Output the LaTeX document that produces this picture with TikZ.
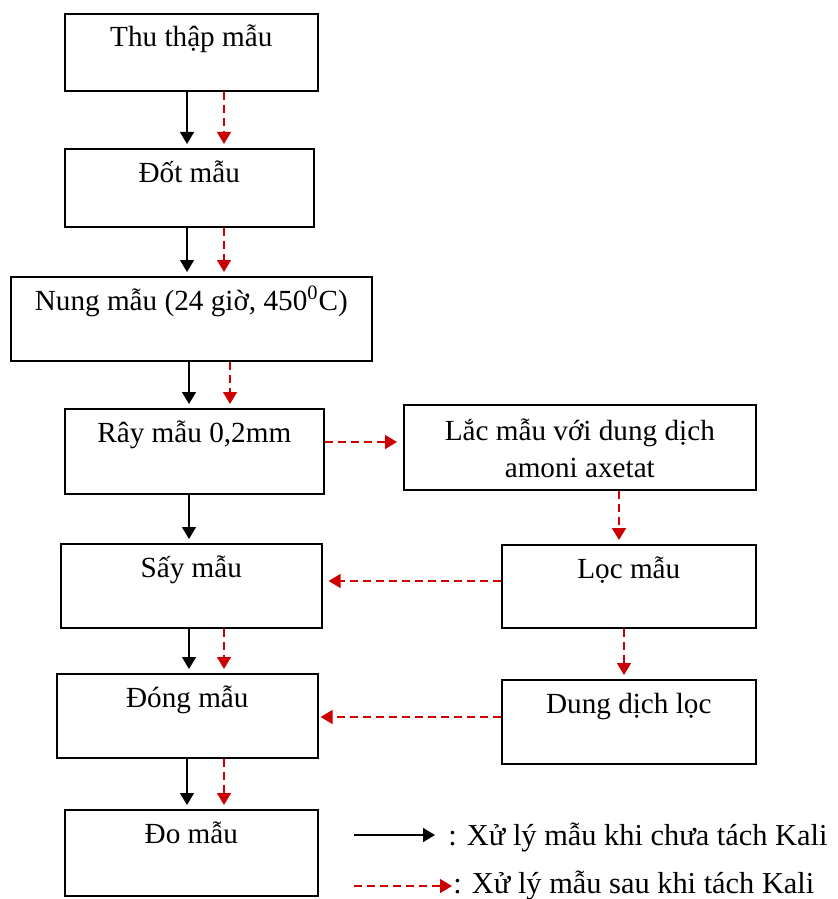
\documentclass[tikz,border=0pt]{standalone}
\usepackage{fontspec}
\setmainfont{Liberation Serif}
\usetikzlibrary{arrows.meta}
\definecolor{kred}{RGB}{204,0,0}
\newcommand{\kbox}[7][17pt]{%
  \node[box, minimum width={(#5-#3)*0.5pt}, minimum height={(#6-#4)*0.5pt}] (#2) at (#3,#4) {};
  \node[lbl] (#2t) at ([yshift=-#1]#2.north) {#7};}
\begin{document}
\begin{tikzpicture}[x=0.5pt,y=-0.5pt,
  box/.style={draw, line width=0.8pt, inner sep=0pt, anchor=north west},
  lbl/.style={anchor=base, inner sep=0pt, font=\fontsize{14.6}{18.5}\selectfont, align=center},
  leg/.style={anchor=base west, inner sep=0pt, font=\fontsize{15.2}{18.5}\selectfont},
  blk/.style={line width=0.75pt, -{Triangle[width=7pt,length=6pt]}, shorten >=2pt},
  rd/.style={kred, line width=0.75pt, dash pattern=on 4pt off 2.5pt, -{Triangle[width=7pt,length=6pt]}, shorten >=2pt},
]
\useasboundingbox (0,0) rectangle (837,899);

\kbox{b1}{64}{13}{317}{90}{Thu thập mẫu}
\kbox{b2}{64}{148}{313}{226}{Đốt mẫu}
\kbox{b3}{10}{276}{371}{360}{Nung mẫu (24 giờ, 450\textsuperscript{0}C)}
\kbox{b4}{64}{408}{323}{493}{Rây mẫu 0,2mm}
\kbox{b5}{60}{543}{321}{627}{Sấy mẫu}
\kbox{b6}{56}{673}{317}{757}{Đóng mẫu}
\kbox{b7}{64}{809}{317}{895}{Đo mẫu}
\kbox[36.5pt]{rA}{403}{404}{755}{489}{Lắc mẫu với dung dịch\\amoni axetat}
\kbox{rB}{501}{544}{755}{627}{Lọc mẫu}
\kbox{rC}{501}{679}{755}{763}{Dung dịch lọc}

% x positions of vertical connectors
\coordinate (xa) at (187,0);
\coordinate (xb) at (189,0);
\coordinate (xr) at (224,0);
\coordinate (xs) at (230,0);
\coordinate (xt) at (619,0);
\coordinate (xu) at (624,0);
% y positions of horizontal connectors
\coordinate (ya) at (0,442);
\coordinate (yb) at (0,581);
\coordinate (yc) at (0,717);

\draw[blk] (b1.south -| xa) -- (b2.north -| xa);
\draw[rd]  (b1.south -| xr) -- (b2.north -| xr);
\draw[blk] (b2.south -| xa) -- (b3.north -| xa);
\draw[rd]  (b2.south -| xr) -- (b3.north -| xr);
\draw[blk] (b3.south -| xb) -- (b4.north -| xb);
\draw[rd]  (b3.south -| xs) -- (b4.north -| xs);
\draw[blk] (b4.south -| xb) -- (b5.north -| xb);
\draw[blk] (b5.south -| xb) -- (b6.north -| xb);
\draw[rd]  (b5.south -| xr) -- (b6.north -| xr);
\draw[blk] (b6.south -| xa) -- (b7.north -| xa);
\draw[rd]  (b6.south -| xr) -- (b7.north -| xr);

\draw[rd, shorten >=3pt] (b4.east |- ya) -- (rA.west |- ya);
\draw[rd] (rA.south -| xt) -- (rB.north -| xt);
\draw[rd] (rB.south -| xu) -- (rC.north -| xu);
\draw[rd, shorten >=3pt] (rB.west |- yb) -- (b5.east |- yb);
\draw[rd, shorten >=1pt] (rC.west |- yc) -- (b6.east |- yc);

% legend
\coordinate (l1a) at (354,835);
\coordinate (l1b) at (435,835);
\coordinate (l2a) at (354,886);
\coordinate (l2b) at (452,886);
\draw[blk, shorten >=0pt] (l1a) -- (l1b);
\draw[rd, shorten >=0pt] (l2a) -- (l2b);
\node[leg] (g1) at (448,845) {: Xử lý mẫu khi chưa tách Kali};
\node[leg] (g2) at (453,893) {: Xử lý mẫu sau khi tách Kali};
\end{tikzpicture}
\end{document}
